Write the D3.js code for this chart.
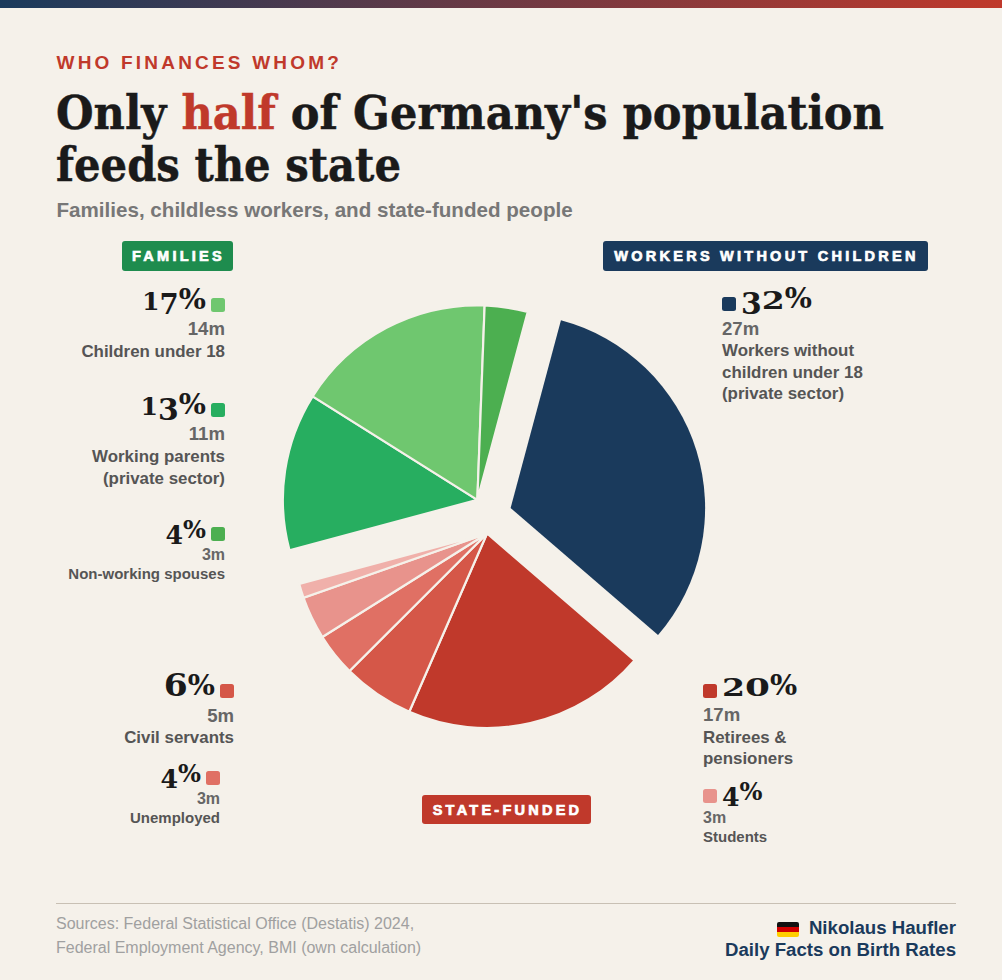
<!DOCTYPE html>
<html><head><meta charset="utf-8">
<script src="https://cdn.jsdelivr.net/npm/d3@7/dist/d3.min.js"></script>
<style>
html,body{margin:0;padding:0;background:#f5f1ea;overflow:hidden}
svg{display:block}
text{font-family:"Liberation Sans",Arial,sans-serif}
.serif{font-family:"DejaVu Serif",serif;font-weight:700}
</style></head><body>
<script>
// ---- data ----
const categories=["Workers without children under 18 (private sector)","Retirees & pensioners","Civil servants","Unemployed","Students","Other","Working parents (private sector)","Children under 18","Non-working spouses"];
const millions=[27,17,5,3,3,1,11,14,3];
const percentLabels=["32%","20%","6%","4%","4%","","13%","17%","4%"];
const millionLabels=["27m","17m","5m","3m","3m","","11m","14m","3m"];
const groups=["workers","state","state","state","state","state","families","families","families"];
const labelLines=[["Workers without","children under 18","(private sector)"],["Retirees &","pensioners"],["Civil servants"],["Unemployed"],["Students"],[],["Working parents","(private sector)"],["Children under 18"],["Non-working spouses"]];
const sourceLines=["Sources: Federal Statistical Office (Destatis) 2024,","Federal Employment Agency, BMI (own calculation)"];
// ---- styling & layout ----
const W=1002,H=980,BG="#f5f1ea",INK="#1a1a1a",RED="#c0392b",NAVY="#1a3a5c";
const colors=[NAVY,RED,"#d55748","#e07064","#e8938c","#f0b0aa","#27ae60","#6fc76f","#4caf50"];
const labelPos=[
 {a:"start",x:722,y:297,big:32,m:18.6,t:16.9,dm:38,dt:59,lh:21.5},
 {a:"start",x:703,y:684,big:32,m:18.6,t:16.9,dm:37,dt:59,lh:21},
 {a:"end",x:234,y:684,big:32,m:18.6,t:16.9,dm:38,dt:59,lh:21},
 {a:"end",x:220,y:771,big:27,m:16,t:15,dm:33,dt:52,lh:21},
 {a:"start",x:703,y:789,big:27,m:16,t:15,dm:34,dt:53,lh:21},
 null,
 {a:"end",x:225,y:403,big:32,m:18.6,t:16.9,dm:37,dt:59,lh:21.5},
 {a:"end",x:225,y:298,big:32,m:18.6,t:16.9,dm:37,dt:59,lh:21},
 {a:"end",x:225,y:527,big:27,m:16,t:15,dm:33,dt:52,lh:21}
];
const cx=491.5,cy=514,R=194.5,explode=20;

const svg=d3.select("body").append("svg").attr("width",W).attr("height",H).attr("viewBox",`0 0 ${W} ${H}`);
svg.append("rect").attr("width",W).attr("height",H).attr("fill",BG);
const grad=svg.append("defs").append("linearGradient").attr("id","bar");
grad.append("stop").attr("offset","0%").attr("stop-color",NAVY);
grad.append("stop").attr("offset","100%").attr("stop-color",RED);
svg.append("rect").attr("width",W).attr("height",8).attr("fill","url(#bar)");

// header
svg.append("text").attr("x",56.5).attr("y",69).attr("font-size",19).attr("font-weight",700).attr("letter-spacing",3.2).attr("fill",RED).text("WHO FINANCES WHOM?");
const t1=svg.append("text").attr("class","serif").attr("x",56).attr("y",129).attr("font-size",46).attr("fill",INK).attr("stroke",INK).attr("stroke-width",0.5).attr("textLength",828).attr("lengthAdjust","spacingAndGlyphs");
t1.append("tspan").text("Only ");
t1.append("tspan").attr("fill",RED).attr("stroke",RED).text("half");
t1.append("tspan").text(" of Germany's population");
svg.append("text").attr("class","serif").attr("x",56).attr("y",181).attr("font-size",46).attr("fill",INK).attr("stroke",INK).attr("stroke-width",0.5).attr("textLength",345).attr("lengthAdjust","spacingAndGlyphs").text("feeds the state");
svg.append("text").attr("x",56.5).attr("y",217).attr("font-size",20.6).attr("font-weight",700).attr("fill","#777").text("Families, childless workers, and state-funded people");

// pie
const pie=d3.pie().value(d=>d).sort(null).startAngle(15*Math.PI/180).endAngle(375*Math.PI/180);
const arcs=pie(millions);
const arc=d3.arc().innerRadius(0).outerRadius(R);
const groupMid={};
d3.group(arcs.map((a,i)=>({a,g:groups[i]})),d=>d.g).forEach((v,g)=>{
  groupMid[g]=(d3.min(v,d=>d.a.startAngle)+d3.max(v,d=>d.a.endAngle))/2;
});
svg.append("g").attr("transform",`translate(${cx},${cy})`).selectAll("path").data(arcs).join("path")
 .attr("d",arc).attr("fill",(d,i)=>colors[i]).attr("stroke",BG).attr("stroke-width",(d,i)=>groups[i]==="workers"?0:2.2).attr("stroke-linejoin","miter")
 .attr("transform",(d,i)=>{const m=groupMid[groups[i]];return `translate(${explode*Math.sin(m)},${-explode*Math.cos(m)})`;});

// old-style numerals emulated per glyph: [font size, baseline shift, width] in units of the label size
const glyphShape={"0":[.78,0,.78],"1":[.78,0,.55],"2":[.78,0,.72],"3":[.94,.16,.65],"4":[.94,.18,.65],"6":[.96,0,.75],"7":[.9,.14,.6],"%":[.9,-.03,.85]};
function bigNumber(sel,str,size){
  let cur=0;
  for(const ch of str){
    const [fs,shift,w]=glyphShape[ch];
    const target=shift*size;
    sel.append("tspan").text(ch).attr("font-size",fs*size).attr("dy",target-cur)
       .attr("textLength",w*size).attr("lengthAdjust","spacingAndGlyphs");
    cur=target;
  }
}
// labels
categories.forEach((c,i)=>{
  const p=labelPos[i]; if(!p) return;
  const sw=14,gap=5,g=svg.append("g");
  g.append("rect").attr("x",p.a==="end"?p.x-sw:p.x).attr("y",p.y).attr("width",sw).attr("height",sw).attr("rx",2.5).attr("fill",colors[i]);
  const pt=g.append("text").attr("class","serif").attr("fill",INK).attr("text-anchor",p.a)
    .attr("x",p.a==="end"?p.x-sw-gap:p.x+sw+gap).attr("y",p.y+12);
  bigNumber(pt,percentLabels[i],p.big);
  g.append("text").attr("x",p.x).attr("y",p.y+p.dm).attr("text-anchor",p.a).attr("font-size",p.m).attr("font-weight",700).attr("fill","#666").text(millionLabels[i]);
  labelLines[i].forEach((l,j)=>{
    g.append("text").attr("x",p.x).attr("y",p.y+p.dt+j*p.lh).attr("text-anchor",p.a).attr("font-size",p.t).attr("font-weight",700).attr("fill","#555").text(l);
  });
});

// badges
[{t:"FAMILIES",x:122,y:241,w:111,h:30,f:"#1e8c4e"},
 {t:"WORKERS WITHOUT CHILDREN",x:603,y:241,w:325,h:30,f:NAVY},
 {t:"STATE-FUNDED",x:422,y:795,w:169,h:29,f:RED}].forEach(b=>{
  svg.append("rect").attr("x",b.x).attr("y",b.y).attr("width",b.w).attr("height",b.h).attr("rx",3).attr("fill",b.f);
  svg.append("text").attr("x",b.x+b.w/2+1).attr("y",b.y+b.h/2+5).attr("text-anchor","middle").attr("font-size",14.5).attr("font-weight",700).attr("letter-spacing",3.25).attr("stroke","#fff").attr("stroke-width",0.7).attr("fill","#fff").text(b.t);
});

// footer
svg.append("line").attr("x1",56).attr("x2",956).attr("y1",903.5).attr("y2",903.5).attr("stroke","#c8c0b4");
sourceLines.forEach((s,i)=>svg.append("text").attr("x",56).attr("y",929+i*24).attr("font-size",16).attr("fill","#a0a0a0").text(s));
svg.append("text").attr("x",956).attr("y",934).attr("text-anchor","end").attr("font-size",18.65).attr("font-weight",700).attr("fill",NAVY).text("Nikolaus Haufler");
svg.append("text").attr("x",956).attr("y",956).attr("text-anchor","end").attr("font-size",18.65).attr("font-weight",700).attr("fill",NAVY).text("Daily Facts on Birth Rates");
const flag=svg.append("g");
svg.append("clipPath").attr("id","fl").append("rect").attr("x",777).attr("y",922).attr("width",22).attr("height",15).attr("rx",2);
flag.attr("clip-path","url(#fl)");
["#111","#d00000","#ffce00"].forEach((c,i)=>flag.append("rect").attr("x",777).attr("y",922+i*5).attr("width",22).attr("height",5).attr("fill",c));
</script>
</body></html>
